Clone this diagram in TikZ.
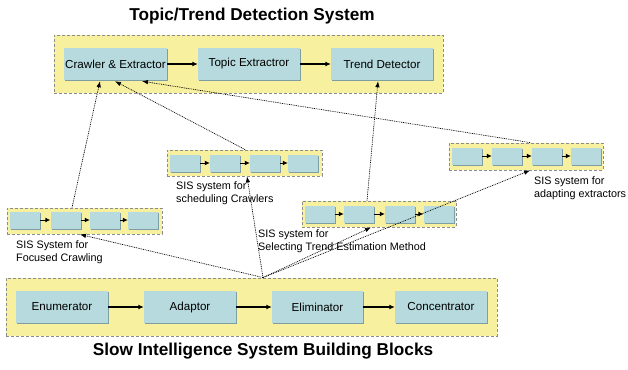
\documentclass[tikz,border=0pt]{standalone}
\usepackage{fontspec}
\setmainfont{Liberation Sans}
\usetikzlibrary{arrows.meta,shadows}
\definecolor{sisyellow}{HTML}{F7F09E}
\definecolor{sisblue}{HTML}{B6DADD}
\definecolor{sisshadow}{HTML}{7F9EA3}
\definecolor{sisgray}{HTML}{8C8C8C}
\tikzset{
  grp/.style={draw=sisgray, fill=sisyellow, line width=0.9pt, dash pattern=on 3pt off 2pt, inner sep=0pt},
  blk/.style={fill=sisblue, inner sep=0pt, drop shadow={shadow xshift=1.2pt, shadow yshift=-1.2pt, fill=sisshadow, opacity=1}},
  bigblk/.style={blk, minimum height=32pt, font=\fontsize{11.6}{13}\selectfont},
  smallblk/.style={blk, minimum width=30pt, minimum height=17pt},
  flow/.style={line width=1.1pt, -{Latex[length=5.5pt,width=5pt]}},
  sflow/.style={line width=1pt, -{Latex[length=5pt,width=5pt]}},
  dot/.style={line width=0.7pt, dash pattern=on 0.9pt off 0.9pt, -{Latex[length=6pt,width=4.5pt]}},
  lbl/.style={anchor=north west, align=left, inner sep=0pt, font=\fontsize{10.8}{13}\selectfont},
  ttl/.style={font=\fontsize{17.2}{20}\bfseries\selectfont},
}
\begin{document}
\begin{tikzpicture}[x=1pt,y=-1pt]
\useasboundingbox (0,0) rectangle (628,369);
% titles
\node[ttl] (ttop) at (252,16) {Topic/Trend Detection System};
\node[ttl] (tbot) at (263,351) {Slow Intelligence System Building Blocks};
% top group
\node[grp, minimum width=389pt, minimum height=58pt] (tg) at (248.5,64) {};
\node[bigblk, minimum width=103pt] (ce) at (115.5,64) {Crawler \& Extractor};
\node[bigblk, minimum width=102pt] (te) at (249,64) {Topic Extractror};
\node[bigblk, minimum width=102pt] (td) at (382,64) {Trend Detector};
\draw[flow] (ce) -- (te);
\draw[flow] (te) -- (td);
% bottom group
\node[grp, minimum width=491pt, minimum height=58pt] (bg) at (251.5,307) {};
\node[bigblk, minimum width=92pt] (en) at (62,307) {Enumerator};
\node[bigblk, minimum width=92pt] (ad) at (190,307) {Adaptor};
\node[bigblk, minimum width=91pt] (el) at (317.5,307) {Eliminator};
\node[bigblk, minimum width=92pt] (co) at (441,307) {Concentrator};
\draw[flow] (en) -- (ad);
\draw[flow] (ad) -- (el);
\draw[flow] (el) -- (co);
% scheduling crawlers group
\node[grp, minimum width=155pt, minimum height=26pt] (sg) at (244.5,163) {};
\node[smallblk] (s1) at (185,163) {};
\node[smallblk] (s2) at (225,163) {};
\node[smallblk] (s3) at (265,163) {};
\node[smallblk] (s4) at (303,163) {};
\draw[sflow] (s1) -- (s2);
\draw[sflow] (s2) -- (s3);
\draw[sflow] (s3) -- (s4);
% focused crawling group
\node[grp, minimum width=155pt, minimum height=26pt] (fg) at (84.5,221) {};
\node[smallblk] (f1) at (25,220) {};
\node[smallblk] (f2) at (65.5,220) {};
\node[smallblk] (f3) at (105,220) {};
\node[smallblk] (f4) at (143,220) {};
\draw[sflow] (f1) -- (f2);
\draw[sflow] (f2) -- (f3);
\draw[sflow] (f3) -- (f4);
% trend estimation group
\node[grp, minimum width=154pt, minimum height=26pt] (eg) at (379,214) {};
\node[smallblk] (e1) at (319.5,214) {};
\node[smallblk] (e2) at (359,214) {};
\node[smallblk] (e3) at (400,214) {};
\node[smallblk] (e4) at (438.5,214) {};
\draw[sflow] (e1) -- (e2);
\draw[sflow] (e2) -- (e3);
\draw[sflow] (e3) -- (e4);
% adapting extractors group
\node[grp, minimum width=154pt, minimum height=27pt] (ag) at (526,156.5) {};
\node[smallblk] (a1) at (467,156) {};
\node[smallblk] (a2) at (507,156) {};
\node[smallblk] (a3) at (547,156) {};
\node[smallblk] (a4) at (586,156) {};
\draw[sflow] (a1) -- (a2);
\draw[sflow] (a2) -- (a3);
\draw[sflow] (a3) -- (a4);
% labels
\node[lbl] (fcl) at (16,240) {SIS System for\\Focused Crawling};
\node[lbl] (scl) at (176,181) {SIS system for\\scheduling Crawlers};
\node[lbl] (ecl) at (258,229) {SIS system for\\Selecting Trend Estimation Method};
\node[lbl] (acl) at (534,176) {SIS system for\\adapting extractors};
% dotted connectors
\coordinate (hub) at ([xshift=11.5pt]bg.north);
\draw[dot] (hub) -- ([xshift=-4.5pt]fg.south);
\draw[dot] (hub) -- ([xshift=2.5pt]sg.south);
\draw[dot] (hub) -- ([xshift=-8pt]eg.south);
\draw[dot] (hub) -- ([xshift=4pt]ag.south);
\draw[dot] ([xshift=-12.5pt]fg.north) -- ([xshift=-15.5pt,yshift=-1pt]ce.south);
\draw[dot] ([xshift=0.5pt]sg.north) -- ([xshift=-0.5pt,yshift=-1pt]ce.south);
\draw[dot] ([xshift=-12pt]eg.north) -- ([xshift=-4pt,yshift=-1pt]td.south);
\draw[dot] ([xshift=4pt]ag.north) -- ([xshift=26.5pt,yshift=-1pt]ce.south);
\end{tikzpicture}
\end{document}
